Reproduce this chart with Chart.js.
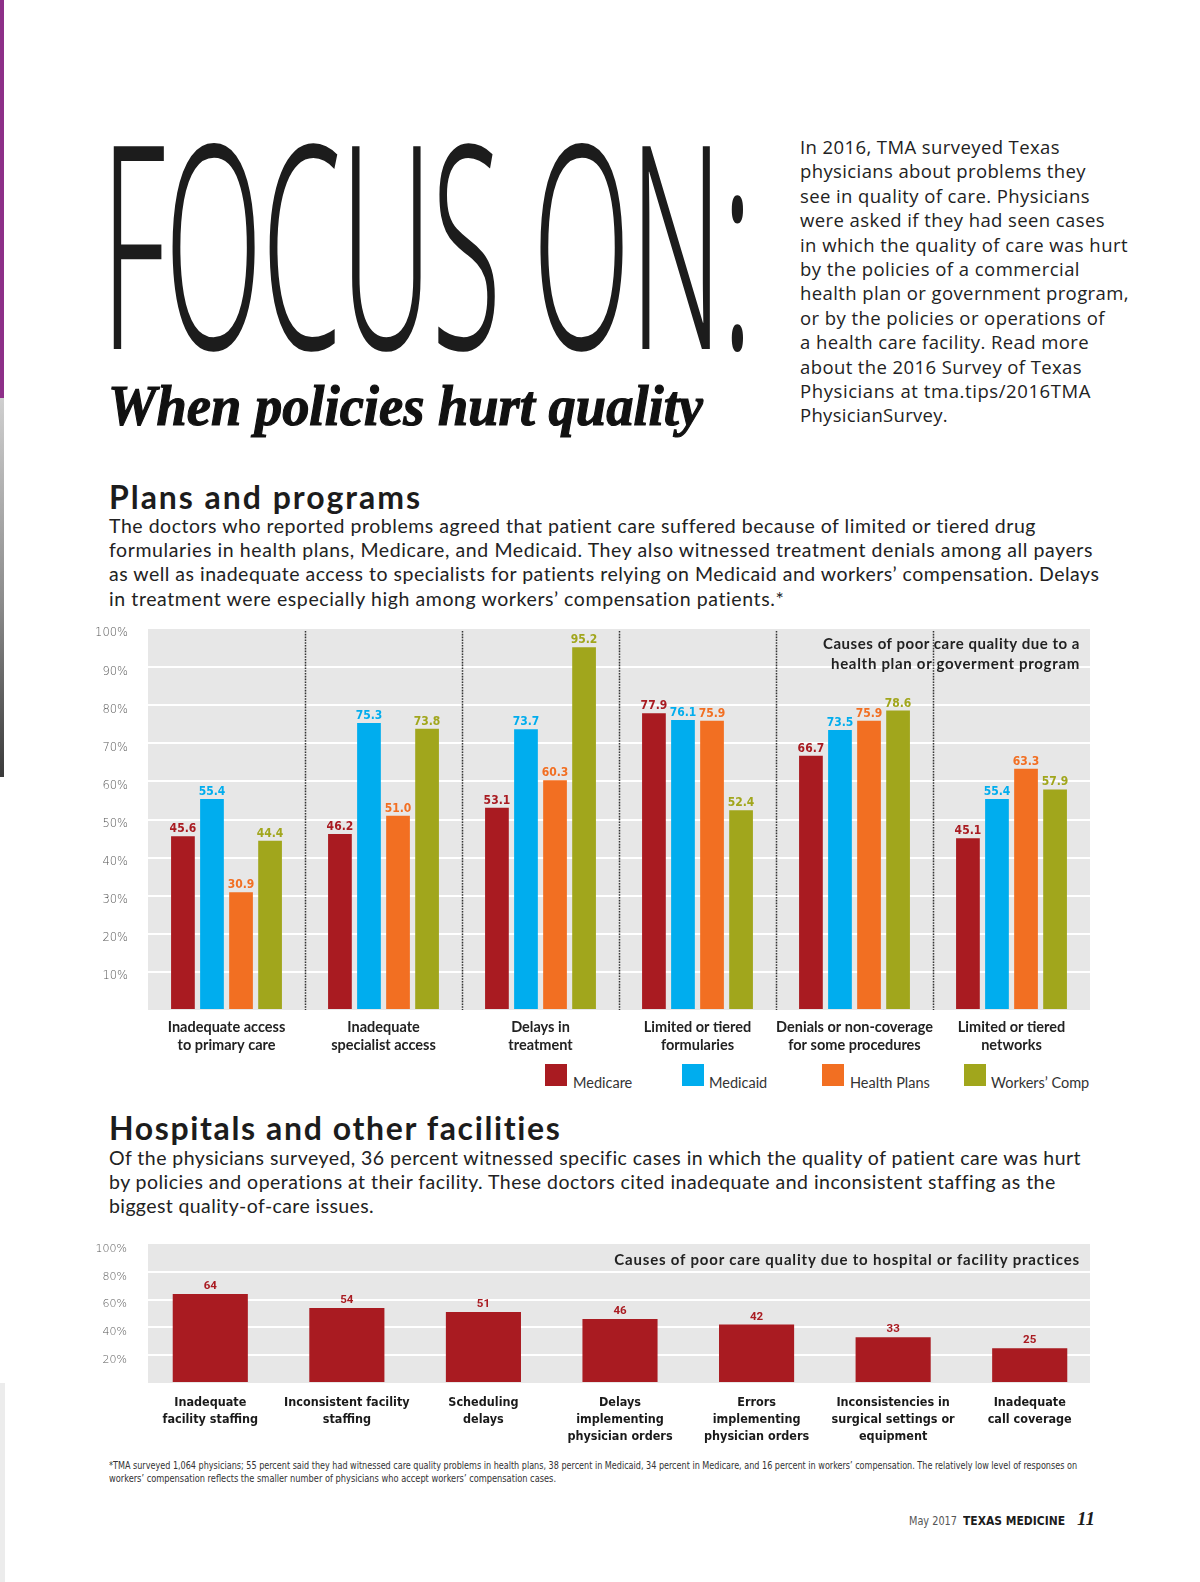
<!DOCTYPE html>
<html>
<head>
<meta charset="utf-8">
<script src="https://cdn.jsdelivr.net/npm/chart.js@4.4.1/dist/chart.umd.min.js"></script>
<style>
html,body{margin:0;padding:0;background:#fff;}
body{width:1200px;height:1582px;position:relative;overflow:hidden;font-family:Lato,'Open Sans',sans-serif;color:#222;}
.abs{position:absolute;white-space:nowrap;}
.ln{display:block;width:max-content;white-space:nowrap;}
.sq{position:absolute;width:22px;height:22px;}
.lg{position:absolute;font:400 14.5px/18px Lato,sans-serif;color:#333;white-space:nowrap;}
</style>
</head>
<body>
<!-- page edge decorations -->
<div class="abs" style="left:0;top:0;width:4px;height:398px;background:#8d2f88"></div>
<div class="abs" style="left:0;top:398px;width:4px;height:379px;background:linear-gradient(#cfcfcf,#8a8a8a 55%,#3a3a3a)"></div>
<div class="abs" style="left:0;top:1383px;width:5px;height:199px;background:#ececec"></div>

<!-- headline -->
<div id="focus" class="abs fitx" data-w="651" style="left:101px;top:97px;font-family:'Noto Sans',Roboto,sans-serif;font-weight:300;font-stretch:62.5%;font-size:284px;line-height:1;color:#1c1c1c;transform-origin:0 0;letter-spacing:-2px">FOCUS ON:</div>
<div class="abs fitx" data-w="595" style="left:108px;top:377px;font:italic 700 57px/1 'Liberation Serif',serif;color:#111;-webkit-text-stroke:1.2px #111;transform-origin:0 0">When policies hurt quality</div>

<!-- intro paragraph -->
<div class="abs" style="left:800px;top:135px;font:400 18.5px/24.4px 'Open Sans',sans-serif;color:#222">
<div class="ln fit" data-w="260">In 2016, TMA surveyed Texas</div>
<div class="ln fit" data-w="286">physicians about problems they</div>
<div class="ln fit" data-w="290">see in quality of care. Physicians</div>
<div class="ln fit" data-w="305">were asked if they had seen cases</div>
<div class="ln fit" data-w="328">in which the quality of care was hurt</div>
<div class="ln fit" data-w="280">by the policies of a commercial</div>
<div class="ln fit" data-w="329">health plan or government program,</div>
<div class="ln fit" data-w="305">or by the policies or operations of</div>
<div class="ln fit" data-w="289">a health care facility. Read more</div>
<div class="ln fit" data-w="282">about the 2016 Survey of Texas</div>
<div class="ln fit" data-w="291">Physicians at tma.tips/2016TMA</div>
<div class="ln fit" data-w="148">PhysicianSurvey.</div>
</div>

<!-- section 1 -->
<div class="abs fit" data-w="313" style="left:109px;top:477px;font:700 32px/40px Lato,sans-serif;color:#1c1c1c">Plans and programs</div>
<div class="abs" style="left:109px;top:514px;font:400 19.5px/24.2px Lato,sans-serif;color:#222">
<div class="ln fit" data-w="927">The doctors who reported problems agreed that patient care suffered because of limited or tiered drug</div>
<div class="ln fit" data-w="984">formularies in health plans, Medicare, and Medicaid. They also witnessed treatment denials among all payers</div>
<div class="ln fit" data-w="991">as well as inadequate access to specialists for patients relying on Medicaid and workers’ compensation. Delays</div>
<div class="ln fit" data-w="676">in treatment were especially high among workers’ compensation patients.*</div>
</div>

<div class="abs" style="left:80px;top:615px;width:1010px;height:445px"><canvas id="c1"></canvas></div>
<div class="abs" style="right:120px;top:633px;font:700 15px/20px Lato,sans-serif;color:#222;text-align:right">
<div class="ln fit" data-w="257" style="margin-left:auto">Causes of poor care quality due to a</div>
<div class="ln fit" data-w="249" style="margin-left:auto">health plan or goverment program</div>
</div>

<!-- legend -->
<div id="legend"></div>

<!-- section 2 -->
<div class="abs fit" data-w="453" style="left:109px;top:1108px;font:700 32px/40px Lato,sans-serif;color:#1c1c1c">Hospitals and other facilities</div>
<div class="abs" style="left:109px;top:1145.5px;font:400 19.5px/24.2px Lato,sans-serif;color:#222">
<div class="ln fit" data-w="972">Of the physicians surveyed, 36 percent witnessed specific cases in which the quality of patient care was hurt</div>
<div class="ln fit" data-w="946">by policies and operations at their facility. These doctors cited inadequate and inconsistent staffing as the</div>
<div class="ln fit" data-w="265">biggest quality-of-care issues.</div>
</div>

<div class="abs" style="left:80px;top:1234px;width:1018px;height:215px"><canvas id="c2"></canvas></div>
<div class="abs fit" data-w="466" style="right:120px;top:1249px;font:700 15px/20px Lato,sans-serif;color:#222">Causes of poor care quality due to hospital or facility practices</div>

<!-- footnote -->
<div class="abs" style="left:109px;top:1458.5px;font:400 11px/13px 'Liberation Sans Narrow','DejaVu Sans Condensed',sans-serif;color:#333">
<div class="ln fitx" data-w="968" style="transform-origin:0 0">*TMA surveyed 1,064 physicians; 55 percent said they had witnessed care quality problems in health plans, 38 percent in Medicaid, 34 percent in Medicare, and 16 percent in workers’ compensation. The relatively low level of responses on</div>
<div class="ln fitx" data-w="447" style="transform-origin:0 0">workers’ compensation reflects the smaller number of physicians who accept workers’ compensation cases.</div>
</div>

<!-- page footer -->
<div class="abs fitx" data-w="48" style="left:909px;top:1513px;font:300 13px/16px 'Liberation Sans Narrow','DejaVu Sans Condensed',sans-serif;color:#555;transform-origin:0 0">May 2017</div>
<div class="abs fitx" data-w="102" style="left:963px;top:1513px;font:700 13px/16px 'Liberation Sans Narrow','DejaVu Sans Condensed',sans-serif;color:#1c1c1c;transform-origin:0 0">TEXAS MEDICINE</div>
<div class="abs" style="left:1077px;top:1508px;font:italic 700 19px/22px 'Liberation Serif',serif;color:#1c1c1c">11</div>

<script>
// ---------------- data ----------------
const categories1 = [
  ["Inadequate access","to primary care"],
  ["Inadequate","specialist access"],
  ["Delays in","treatment"],
  ["Limited or tiered","formularies"],
  ["Denials or non-coverage","for some procedures"],
  ["Limited or tiered","networks"]
];
const seriesNames = ["Medicare","Medicaid","Health Plans","Workers’ Comp"];
const seriesColors = ["#a91b21","#00adee","#f26f22","#a1a61c"];
const medicare    = [45.6, 46.2, 53.1, 77.9, 66.7, 45.1];
const medicaid    = [55.4, 75.3, 73.7, 76.1, 73.5, 55.4];
const healthPlans = [30.9, 51.0, 60.3, 75.9, 75.9, 63.3];
const workersComp = [44.4, 73.8, 95.2, 52.4, 78.6, 57.9];
const yTicks1 = [10,20,30,40,50,60,70,80,90,100];

const categories2 = [
  ["Inadequate","facility staffing"],
  ["Inconsistent facility","staffing"],
  ["Scheduling","delays"],
  ["Delays","implementing","physician orders"],
  ["Errors","implementing","physician orders"],
  ["Inconsistencies in","surgical settings or","equipment"],
  ["Inadequate","call coverage"]
];
const facilityValues = [64, 54, 51, 46, 42, 33, 25];
const yTicks2 = [20,40,60,80,100];

// ---------------- text fitting ----------------
function fitLS(el){
  const w = parseFloat(el.dataset.w);
  el.style.letterSpacing = '0px';
  const nat = el.getBoundingClientRect().width;
  const n = [...el.textContent].length;
  let ls = (w - nat) / n;
  ls = Math.max(-1.6, Math.min(2.5, ls));
  el.style.letterSpacing = ls + 'px';
}
function fitX(el){
  const w = parseFloat(el.dataset.w);
  el.style.transform = 'none';
  const nat = el.getBoundingClientRect().width;
  el.style.transform = 'scaleX(' + (w / nat) + ')';
}
document.querySelectorAll('.fit').forEach(fitLS);
document.querySelectorAll('.fitx').forEach(fitX);

// ---------------- legend (HTML) ----------------
const legendSq = [545, 682, 822, 964];
const legendTx = [573, 709, 850, 991];
const lg = document.getElementById('legend');
seriesNames.forEach((n,i)=>{
  const s = document.createElement('div'); s.className='sq';
  s.style.left = legendSq[i]+'px'; s.style.top='1064px'; s.style.background = seriesColors[i];
  lg.appendChild(s);
  const t = document.createElement('div'); t.className='lg';
  t.style.left = legendTx[i]+'px'; t.style.top='1074px'; t.textContent = n;
  lg.appendChild(t);
});

// ---------------- plugins ----------------
const bgPlugin = {
  id:'bg',
  beforeDraw(chart, args, opts){
    const a = chart.chartArea, ctx = chart.ctx;
    const il = opts.insetLeft || 0, ir = opts.insetRight || 0;
    ctx.save(); ctx.fillStyle = '#e7e7e7';
    ctx.fillRect(a.left + il, a.top, a.right - a.left - il - ir, a.bottom - a.top);
    ctx.restore();
  }
};
const sepPlugin = {
  id:'sep',
  afterDatasetsDraw(chart, args, opts){
    if(!opts.show) return;
    const x = chart.scales.x, a = chart.chartArea, ctx = chart.ctx;
    ctx.save(); ctx.strokeStyle = '#333'; ctx.lineWidth = 1.5; ctx.setLineDash([1.6,1.2]);
    for(let i=1;i<chart.data.labels.length;i++){
      const px = Math.round((x.getPixelForValue(i-1) + x.getPixelForValue(i)) / 2) + 0.5;
      ctx.beginPath(); ctx.moveTo(px, a.top + 2); ctx.lineTo(px, a.bottom); ctx.stroke();
    }
    ctx.restore();
  }
};
const valPlugin = {
  id:'vals',
  afterDatasetsDraw(chart, args, opts){
    const ctx = chart.ctx;
    ctx.save(); ctx.font = opts.font; ctx.textAlign = 'center'; ctx.textBaseline = 'alphabetic';
    chart.data.datasets.forEach((ds,i)=>{
      chart.getDatasetMeta(i).data.forEach((bar,j)=>{
        ctx.fillStyle = opts.color || ds.backgroundColor;
        ctx.fillText(opts.decimals ? ds.data[j].toFixed(opts.decimals) : String(ds.data[j]), bar.x, bar.y - opts.offset);
      });
    });
    ctx.restore();
  }
};
function noPad(s){ s.paddingTop = 0; s.paddingBottom = 0; }

const gridColor = c => (c.tick && (c.tick.value===0 || c.tick.value===100)) ? 'rgba(0,0,0,0)' : '#ffffff';

// ---------------- chart 1 ----------------
const seriesData = [medicare, medicaid, healthPlans, workersComp];
new Chart(document.getElementById('c1'), {
  type:'bar',
  data:{
    labels: categories1,
    datasets: seriesNames.map((n,i)=>({label:n, data:seriesData[i], backgroundColor:seriesColors[i],
      categoryPercentage:0.74, barPercentage:0.817}))
  },
  options:{
    responsive:true, maintainAspectRatio:false, animation:false,
    layout:{padding:{top:14, right:0, left:0, bottom:0}},
    plugins:{legend:{display:false}, tooltip:{enabled:false},
      bg:{}, sep:{show:true},
      vals:{font:"bold 12px 'Liberation Sans Narrow', 'DejaVu Sans Condensed', sans-serif", offset:4, decimals:1}},
    scales:{
      x:{grid:{display:false, drawTicks:false, tickLength:0}, border:{display:false},
         ticks:{font:{family:'Lato, sans-serif', weight:'bold', size:14.5, lineHeight:1.25}, color:'#222', padding:8, maxRotation:0, autoSkip:false},
         afterFit(s){ s.height = 50; s.paddingLeft = 0; s.paddingRight = 0; }},
      y:{min:0, max:100,
         afterBuildTicks(s){ s.ticks = [0].concat(yTicks1).map(v=>({value:v})); },
         ticks:{callback:v=> v===0 ? '' : v+'%', font:{family:"'DejaVu Sans', sans-serif", size:11.5, weight:'200'}, color:'#555', padding:20, labelOffset:4.5},
         grid:{color:gridColor, lineWidth:2, drawTicks:false},
         border:{display:false},
         afterFit(s){ s.width = 68; noPad(s); }}
    }
  },
  plugins:[bgPlugin, sepPlugin, valPlugin]
});

// ---------------- chart 2 ----------------
new Chart(document.getElementById('c2'), {
  type:'bar',
  data:{
    labels: categories2,
    datasets:[{label:'Facility', data:facilityValues, backgroundColor:'#a91b21', categoryPercentage:1, barPercentage:0.55}]
  },
  options:{
    responsive:true, maintainAspectRatio:false, animation:false,
    layout:{padding:{top:10, right:0, left:0, bottom:0}},
    plugins:{legend:{display:false}, tooltip:{enabled:false},
      bg:{insetLeft:6, insetRight:8}, sep:{show:false},
      vals:{font:"bold 11.5px Roboto, sans-serif", offset:5, color:'#a91b21', decimals:0}},
    scales:{
      x:{grid:{display:false, drawTicks:false, tickLength:0}, border:{display:false},
         ticks:{font:{family:"'Liberation Sans Narrow', 'DejaVu Sans Condensed', sans-serif", size:12.5, weight:'bold', lineHeight:1.36}, color:'#1a1a1a', padding:11, maxRotation:0, autoSkip:false},
         afterFit(s){ s.height = 66; s.paddingLeft = 0; s.paddingRight = 0; }},
      y:{min:0, max:100,
         afterBuildTicks(s){ s.ticks = [0].concat(yTicks2).map(v=>({value:v})); },
         ticks:{callback:v=> v===0 ? '' : v+'%', font:{family:"'DejaVu Sans', sans-serif", size:11, weight:'200'}, color:'#555', padding:15, labelOffset:5},
         grid:{color:gridColor, lineWidth:2, drawTicks:false},
         border:{display:false},
         afterFit(s){ s.width = 62; noPad(s); }}
    }
  },
  plugins:[bgPlugin, sepPlugin, valPlugin]
});
</script>
</body>
</html>
